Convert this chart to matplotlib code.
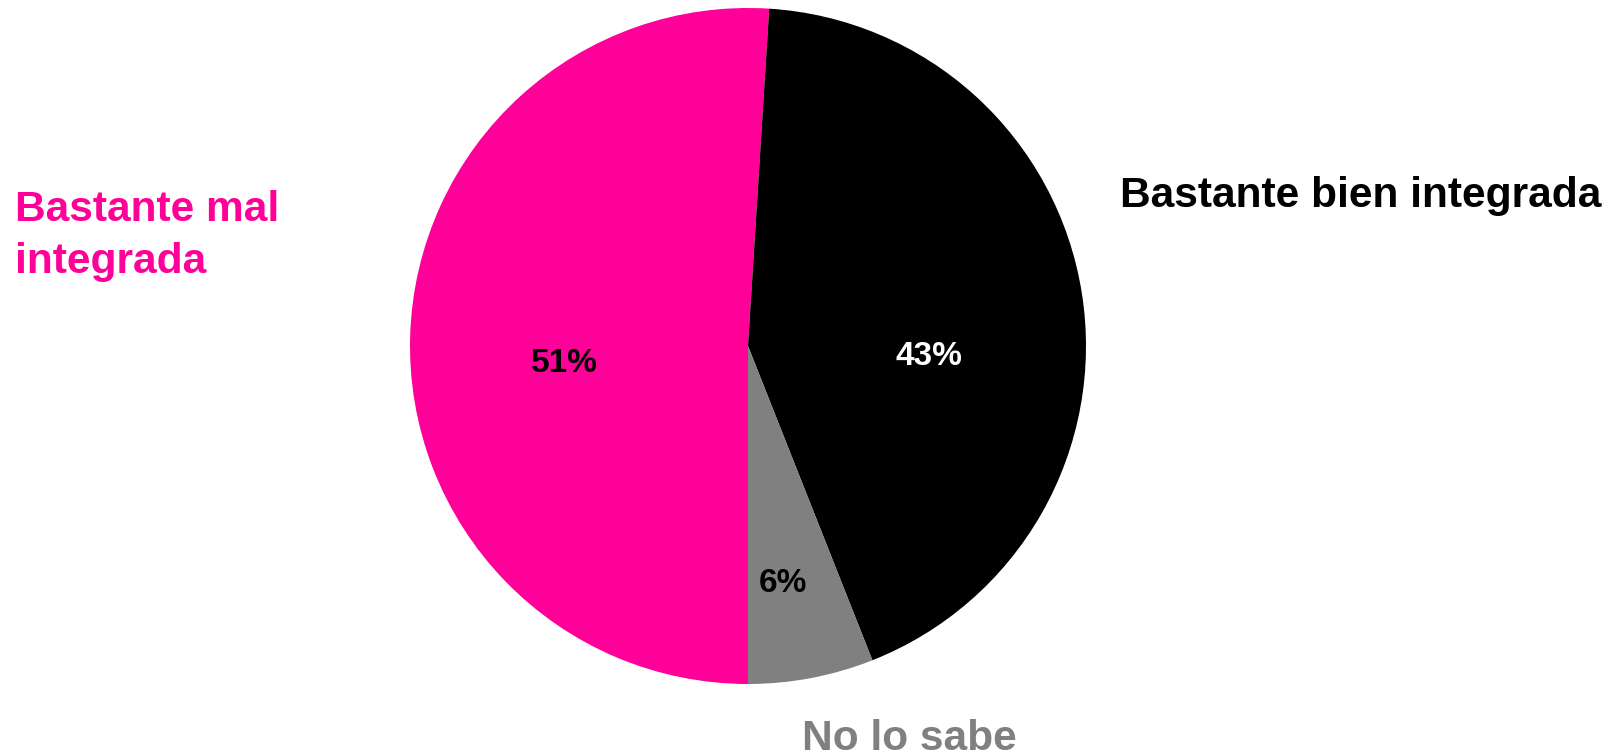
import matplotlib.pyplot as plt

categories = ["Bastante mal\nintegrada", "Bastante bien integrada", "No lo sabe"]
values = [51, 43, 6]
colors = ["#FF0099", "#000000", "#808080"]
pct_colors = ["#000000", "#FFFFFF", "#000000"]

W, H = 1615, 756
fig = plt.figure(figsize=(W / 100, H / 100), dpi=100)
ax = fig.add_axes([0, 0, 1, 1])
ax.set_xlim(0, W)
ax.set_ylim(0, H)
ax.set_aspect("equal")
ax.axis("off")

cx, cy, r = 748, 410, 338
ax.pie(values, colors=colors, startangle=-90, counterclock=False,
       center=(cx, cy), radius=r, wedgeprops=dict(linewidth=0))
ax.set_xlim(0, W)
ax.set_ylim(0, H)

font = dict(family=["Liberation Sans", "DejaVu Sans"], fontweight="bold")

# percentage labels
pct_pos = [(564, 393), (929, 400), (783, 173)]
for v, c, (x, y) in zip(values, pct_colors, pct_pos):
    ax.text(x, y, f"{v}%", color=c, fontsize=24, ha="center", va="center", **font)

# category labels
ax.text(15, 520, categories[0], color=colors[0], fontsize=30.6, ha="left", va="center",
        linespacing=1.4, **font)
ax.text(1361, 560, categories[1], color=colors[1], fontsize=30.6, ha="center", va="center", **font)
ax.text(909, 17, categories[2], color=colors[2], fontsize=30.6, ha="center", va="center", **font)

fig.savefig("out.png", dpi=100)
